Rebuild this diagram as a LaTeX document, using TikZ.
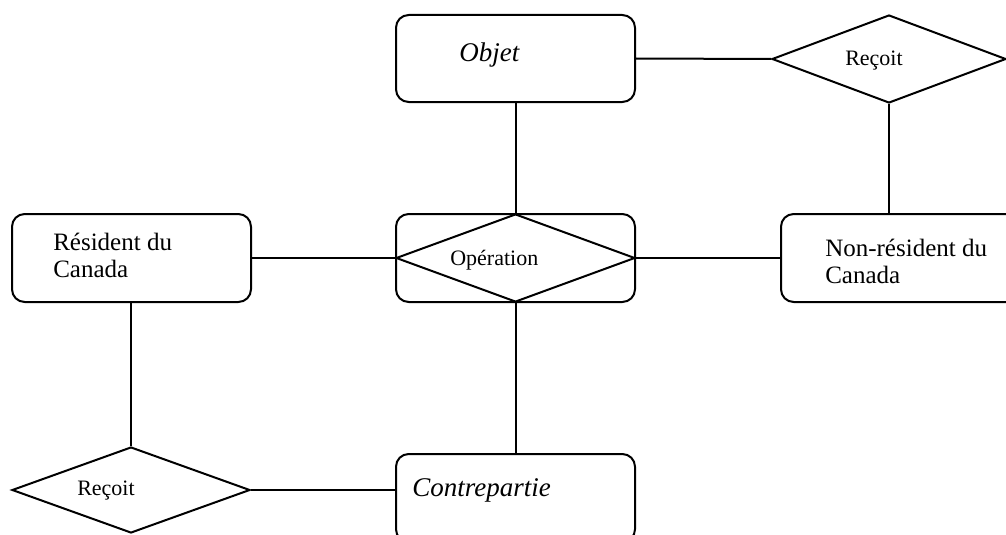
\documentclass[tikz,border=0pt]{standalone}
\usepackage{fontspec}
\setmainfont{Liberation Serif}
\usetikzlibrary{shapes.geometric}
\tikzset{
  line/.style={line width=1.5pt},
  entity/.style={draw, line width=1.5pt, rounded corners=9.5pt, inner sep=0pt},
  relation/.style={draw, line width=1.5pt, shape=diamond, inner sep=0pt},
  lbl/.style={inner sep=0pt, anchor=base west},
  big/.style={font=\fontsize{18.75pt}{20.25pt}\selectfont},
  small/.style={font=\fontsize{16.5pt}{19pt}\selectfont},
  ital/.style={font=\fontsize{20.25pt}{22pt}\selectfont\itshape},
}
\begin{document}
\begin{tikzpicture}[x=0.75pt,y=-0.75pt]
\useasboundingbox (0,0) rectangle (1006,535);
\clip (0,0) rectangle (1006,535);

% entities
\node[entity, minimum width=239*0.75pt, minimum height=87*0.75pt] (obj) at (515.5,58.5) {};
\node[entity, minimum width=239*0.75pt, minimum height=88*0.75pt] (op) at (515.5,258) {};
\node[entity, minimum width=239*0.75pt, minimum height=88*0.75pt] (res) at (131.5,258) {};
\node[entity, minimum width=239*0.75pt, minimum height=88*0.75pt] (nr) at (900.5,258) {};
\node[entity, minimum width=239*0.75pt, minimum height=88*0.75pt] (cp) at (515.5,498) {};

% relationships
\node[relation, minimum width=239*0.75pt, minimum height=88*0.75pt] (opd) at (515.5,258) {};
\node[relation, minimum width=234*0.75pt, minimum height=88*0.75pt] (rt) at (889,59) {};
\node[relation, minimum width=238*0.75pt, minimum height=86*0.75pt] (rb) at (131,490) {};

% labels (multi-line labels are anchored on their last baseline)
\node[lbl, ital] (tobj) at (459,62) {Objet};
\node[lbl, small] (trt) at (845,65) {Reçoit};
\node[lbl, small] (top) at (450,265) {Opération};
\node[lbl, big, align=left] (tres) at (53,277.7) {Résident du\\Canada};
\node[lbl, big, align=left, font=\fontsize{18.75pt}{19.8pt}\selectfont] (tnr) at (825,283) {Non-résident du\\Canada};
\node[lbl, small] (trb) at (77,495.7) {Reçoit};
\node[lbl, ital] (tcp) at (412,496) {Contrepartie};

% connectors
\draw[line] (obj.east) -- (rt.west);
\draw[line] (rt.south) -- (rt.south |- nr.north);
\draw[line] (obj.south) -- (op.north);
\draw[line] (res.east) -- (op.west);
\draw[line] (op.east) -- (nr.west);
\draw[line] (op.south) -- (cp.north);
\draw[line] (rb.north) -- (rb.north |- res.south);
\draw[line] (rb.east) -- (rb.east -| cp.west);
\end{tikzpicture}
\end{document}
